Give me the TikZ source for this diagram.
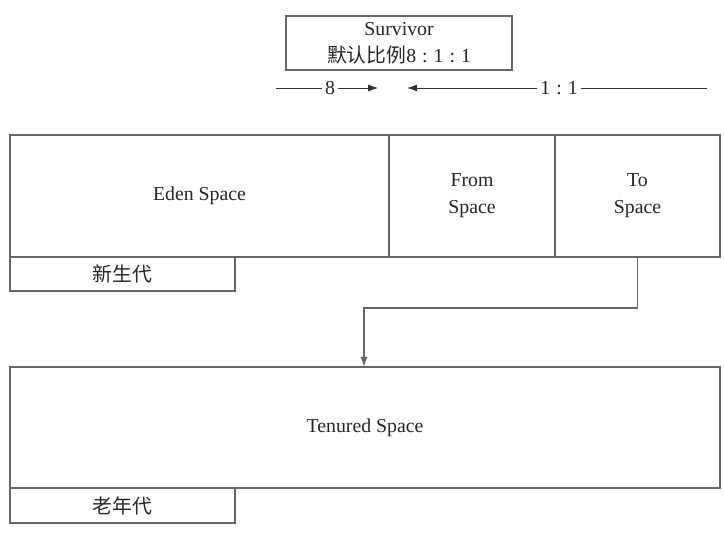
\documentclass[tikz,border=0pt]{standalone}
\usepackage{fontspec}
\setmainfont{Liberation Serif}
\newfontfamily\cjk{Noto Sans CJK SC}
\usetikzlibrary{arrows.meta,positioning}
\newcommand{\zh}[1]{{\cjk #1}}
\newcommand{\ratiosep}{\hspace{6pt}:\hspace{6pt}}

\begin{document}
\begin{tikzpicture}[x=1pt,y=-1pt,
        box/.style={draw=gray!80!black, line width=1.2pt, inner sep=0pt, outer sep=0pt,
            align=center, text=black!85, font=\fontsize{19.8}{27}\selectfont},
        region/.style={box, minimum height=122pt},
        tag/.style={box, minimum width=225pt, minimum height=34pt, anchor=north west},
        lbl/.style={inner sep=3pt, text=black!85, font=\fontsize{19.8}{27}\selectfont},
        ratio/.style={line width=0.8pt, black!80},
        tip/.style={-{Latex[length=10pt,width=7pt]}},
        flow/.style={-{Latex[length=10pt,width=7pt]}, line width=1.2pt, gray!80!black}
    ]
    \useasboundingbox (0,0) rectangle (724,540);

    % --- Survivor note ---
    \node[box, minimum width=226pt, minimum height=54pt] (surv) at (399,43)
        {Survivor\\\zh{默认比例}8\ratiosep1\ratiosep1};

    % --- Ratio arrows ---
    \coordinate (l0) at (276,88);
    \coordinate (l1) at (378,88);
    \coordinate (r1) at (407,88);
    \coordinate (r0) at (707,88);
    \node[lbl] (eight) at (330,88) {8};
    \node[lbl] (half) at (559,88) {1\ratiosep1};
    \draw[ratio] (l0) -- (eight);
    \draw[ratio,tip] (eight) -- (l1);
    \draw[ratio,tip] (half) -- (r1);
    \draw[ratio] (half) -- (r0);

    % --- Young generation ---
    \node[region, minimum width=379pt] (eden) at (199.5,196) {Eden Space};
    \node[region, minimum width=166pt, right=0pt of eden] (from) {From\\Space};
    \node[region, minimum width=165pt, right=0pt of from] (to) {To\\Space};
    \node[tag] (young) at (eden.south west) {\zh{新生代}};

    % --- Old generation ---
    \node[region, minimum width=710pt, minimum height=121pt] (old) at (365,427.5) {Tenured Space};
    \node[tag, minimum height=35pt] (aged) at (old.south west) {\zh{老年代}};

    % --- Promotion ---
    \coordinate (bend) at (364,308);
    \draw[flow] (to.south) |- (bend) -- (bend |- old.north);

\end{tikzpicture}
\end{document}
